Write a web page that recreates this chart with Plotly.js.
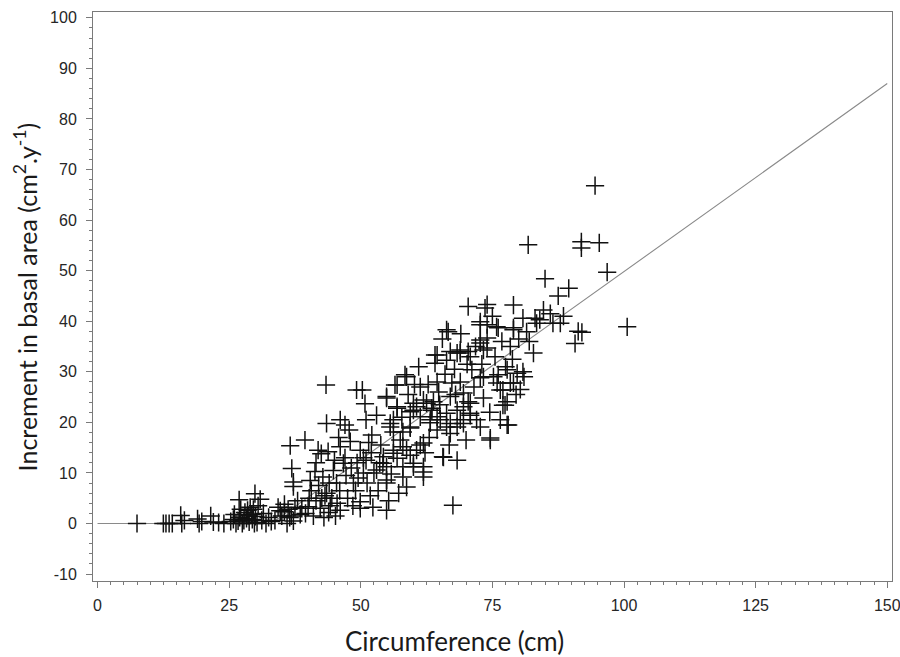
<!DOCTYPE html>
<html>
<head>
<meta charset="utf-8">
<script src="https://cdn.plot.ly/plotly-3.0.1.min.js"></script>
<style>html,body{margin:0;padding:0;background:#fff;}#chart{width:900px;height:657px;}</style>
</head>
<body>
<div id="chart"></div>
<script>
// Observed trees: circumference (cm) and basal-area increment (cm2/y)
const circumference = [
7.5,12.5,13.0,13.6,14.2,15.8,16.0,16.5,19.0,19.3,19.8,21.5,22.0,23.0,24.0,25.3,25.8,26.3,26.7,26.9,
27.0,27.5,28.0,28.3,28.5,28.8,29.0,29.3,29.6,29.8,29.9,30.0,30.5,30.9,31.2,31.5,32.0,32.5,33.0,33.7,
34.3,34.7,35.0,35.5,35.5,36.0,36.2,36.5,36.8,37.2,37.5,38.0,38.5,38.8,27.8,26.0,29.4,30.3,28.6,27.2,
36.6,36.9,37.2,37.2,39.4,40.4,41.3,40.6,41.5,42.3,43.2,42.0,43.5,44.2,40.0,39.5,41.0,43.0,44.8,45.4,
46.1,44.5,45.5,46.7,46.1,47.0,48.0,48.6,49.9,49.9,49.9,49.3,41.9,43.5,46.1,47.0,43.4,49.2,50.3,42.5,
43.8,41.5,42.8,44.0,45.0,46.0,47.2,47.5,48.2,48.5,49.0,49.5,45.8,47.8,40.2,42.6,43.9,45.2,
50.5,50.8,51.2,51.0,51.5,51.0,52.0,52.3,52.5,52.1,53.0,53.0,53.3,53.6,54.3,54.2,54.9,54.9,54.9,54.9,
54.9,54.9,55.6,55.6,56.2,56.2,56.2,56.2,56.5,56.9,56.9,56.9,56.9,58.0,58.0,58.0,58.0,58.4,58.7,58.7,
58.7,59.4,59.4,59.4,59.4,60.0,60.0,60.0,60.0,60.6,60.6,61.0,61.3,61.3,61.3,61.9,61.9,61.9,61.9,61.9,
50.5,51.8,53.8,55.3,57.2,57.5,59.0,60.2,55.8,57.8,
62.5,63.2,63.2,63.5,63.5,63.8,64.1,64.1,64.5,64.5,64.5,64.5,65.1,65.6,65.7,66.3,66.3,66.3,66.3,66.6,
67.0,67.0,67.0,67.0,67.3,67.5,68.3,68.3,68.3,68.3,68.9,68.9,68.9,68.9,69.5,69.5,69.5,70.4,70.4,70.4,
70.8,70.8,70.8,70.8,71.1,72.0,62.8,63.0,64.8,65.5,66.0,67.8,69.0,70.0,71.5,62.2,65.0,66.8,68.0,70.2,71.8,
72.7,72.7,72.7,72.7,72.7,72.7,73.3,73.3,73.3,73.6,74.0,74.0,74.0,74.0,74.6,74.6,75.2,75.8,75.9,76.1,
76.1,76.5,77.0,77.0,77.4,77.8,77.8,77.8,78.0,78.4,78.4,79.0,79.0,79.0,79.0,79.7,80.0,73.0,74.5,75.5,
76.8,77.5,78.8,79.5,75.0,76.5,
80.8,80.8,81.5,81.8,82.8,83.1,83.4,84.0,84.7,85.0,86.0,86.5,87.5,87.9,88.5,89.5,90.7,91.3,91.9,91.9,
92.0,94.5,95.3,96.8,100.6,81.0,82.0,80.3
];
const increment = [
0,0,0,0,0,1.6,0,0.6,0.9,0,0.4,1.5,0.3,0.2,0,0.4,0.8,0,0.5,4.7,
1.2,0,2.2,1.0,2.6,0.3,3.2,1.8,2.8,0,5.9,1.4,3.5,4.8,0.6,2.0,0,1.2,0.4,0.6,
3.2,2.5,1.5,2.3,3.8,0,2.8,1.2,1.5,0.5,3.2,4.5,1.8,3.0,0.6,1.8,0.8,0.2,1.6,2.8,
15.4,10.9,8.2,7.3,16.5,8.5,10.3,6.5,4.5,3.0,5.5,7.5,6.0,3.5,3.3,2.0,1.5,1.2,10.5,8.0,
2.6,5.0,4.0,11.9,15.2,13.0,16.2,8.0,3.0,4.3,14.5,12.0,14.5,19.8,20.5,19.5,27.4,26.4,26.4,13.8,
14.2,12.0,9.2,8.0,12.5,6.5,9.5,5.0,11.0,3.5,6.5,9.0,17.0,18.5,5.0,5.0,2.2,1.5,
10.0,23.7,8.0,12.5,16.0,20.5,14.0,3.2,10.0,17.5,10.6,21.4,6.5,12.0,13.2,11.9,11.2,8.6,8.0,2.6,
24.8,25.1,19.8,19.1,18.1,14.5,13.9,20.5,27.4,27.4,23.1,22.8,12.9,18.1,15.2,11.2,9.2,29.4,29.0,14.5,
7.2,22.1,19.1,18.9,13.5,22.4,23.8,11.9,11.2,23.1,14.5,31.0,27.0,21.1,15.5,24.4,15.9,11.2,10.2,9.2,
13.0,5.5,15.5,4.5,6.0,16.5,25.5,27.5,9.8,21.0,
23.8,19.9,20.5,22.4,22.8,24.1,33.3,31.7,28.0,21.1,18.5,33.3,20.5,13.2,13.1,32.3,38.3,21.8,19.1,37.9,
25.1,19.8,17.8,34.0,27.8,3.6,22.4,19.1,12.5,33.7,34.3,33.7,28.0,20.5,25.8,23.1,19.8,42.9,34.0,24.1,
33.0,23.8,21.8,21.4,30.4,20.5,27.5,17.0,26.0,36.5,29.5,30.5,37.5,16.5,27.0,14.0,23.5,15.5,25.5,31.5,35.0,
36.3,39.9,39.3,35.7,28.8,19.1,34.3,29.0,24.8,42.6,43.3,39.3,36.7,34.7,16.5,16.9,29.0,38.9,27.8,38.7,
29.4,26.4,23.4,26.4,23.4,19.5,30.4,24.1,19.5,35.0,27.8,43.2,38.7,38.3,27.8,29.7,36.5,31.5,22.0,33.0,
36.0,31.0,32.5,25.5,41.0,20.5,
40.6,30.0,37.9,55.1,33.7,40.6,39.6,40.3,42.2,48.4,41.5,39.6,45.0,39.6,41.0,46.5,35.6,38.0,55.7,54.5,
37.8,66.8,55.5,49.7,38.9,29.0,36.0,26.5
];
// Fitted broken-line model
const fitX = [0, 33, 150];
const fitY = [0, 0, 87];
const xTicks = [0, 25, 50, 75, 100, 125, 150];
const yTicks = [-10, 0, 10, 20, 30, 40, 50, 60, 70, 80, 90, 100];

const axisCol = '#7a7a7a';
const tickFont = {family: 'Liberation Sans, Arial, sans-serif', size: 16, color: '#262626'};

const traces = [
  {x: fitX, y: fitY, type: 'scatter', mode: 'lines', line: {color: '#8a8a8a', width: 1.1}, hoverinfo: 'skip'},
  {x: circumference, y: increment, type: 'scatter', mode: 'markers',
   marker: {symbol: 'cross-thin', size: 13, color: '#111', line: {color: '#111', width: 1.5}}}
];

const layout = {
  width: 900, height: 657,
  margin: {l: 93, r: 8, t: 12, b: 76},
  paper_bgcolor: '#fff', plot_bgcolor: '#fff',
  showlegend: false,
  xaxis: {
    range: [-0.86, 150.9], tickvals: xTicks, ticktext: xTicks.map(String),
    showline: true, mirror: true, linecolor: axisCol, linewidth: 1,
    ticks: 'outside', ticklen: 6, tickcolor: axisCol, tickwidth: 1, ticklabelstandoff: 4,
    ticklabeloverflow: 'allow',
    minor: {dtick: 2.5, ticks: 'outside', ticklen: 3, tickcolor: axisCol, tickwidth: 1},
    showgrid: false, zeroline: false, tickfont: tickFont
  },
  yaxis: {
    range: [-11.37, 101.15], tickvals: yTicks, ticktext: yTicks.map(String),
    showline: true, mirror: true, linecolor: axisCol, linewidth: 1,
    ticks: 'outside', ticklen: 6, tickcolor: axisCol, tickwidth: 1, ticklabelstandoff: 6,
    ticklabeloverflow: 'allow',
    minor: {dtick: 2, ticks: 'outside', ticklen: 3, tickcolor: axisCol, tickwidth: 1},
    showgrid: false, zeroline: false, tickfont: tickFont
  },
  annotations: [
    {text: 'Circumference (cm)', xref: 'paper', yref: 'paper', x: 0.452, y: -0.106,
     xanchor: 'center', yanchor: 'middle', showarrow: false,
     font: {family: 'Lato, Open Sans, sans-serif', size: 26, color: '#1a1a1a'}},
    {text: 'Increment in basal area (cm<sup>2</sup>.y<sup>-1</sup>)', xref: 'paper', yref: 'paper',
     x: -0.084, y: 0.5, xanchor: 'center', yanchor: 'middle', textangle: -90, showarrow: false,
     font: {family: 'Lato, Open Sans, sans-serif', size: 25, color: '#1a1a1a'}}
  ]
};

Plotly.newPlot('chart', traces, layout, {staticPlot: true, displayModeBar: false});
</script>
</body>
</html>
